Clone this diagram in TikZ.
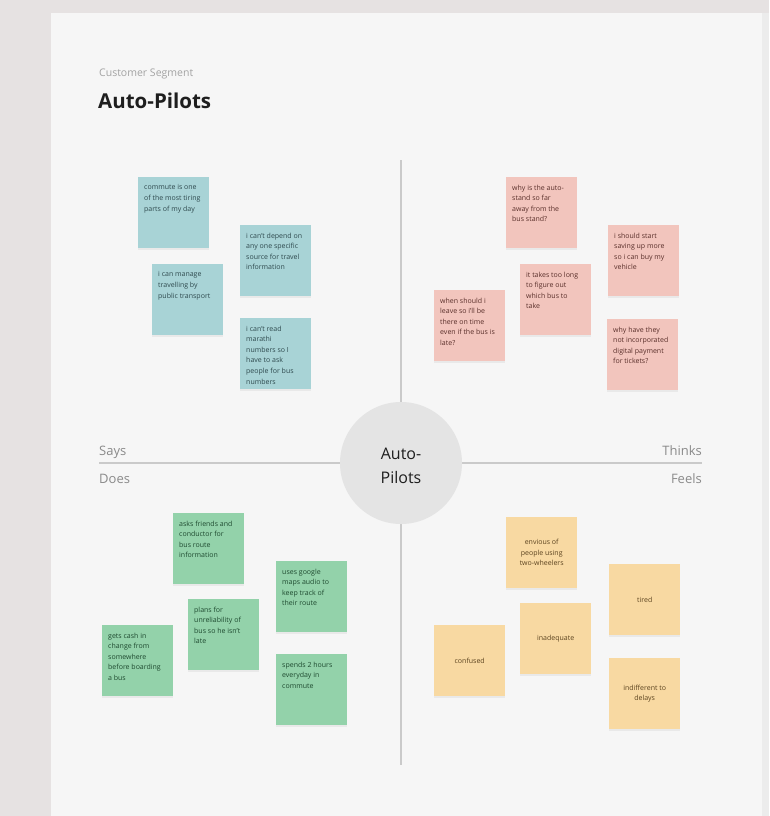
\documentclass[tikz,border=0pt]{standalone}
\usepackage{fontspec}
\setmainfont{Open Sans}
\usetikzlibrary{shadows}

\definecolor{outerbg}{HTML}{E6E2E2}
\definecolor{panelbg}{HTML}{F6F6F6}
\definecolor{panelshade}{HTML}{ECECEC}
\definecolor{axisline}{HTML}{CACACA}
\definecolor{hubfill}{HTML}{E4E4E4}
\definecolor{quadlabel}{HTML}{8A8A8A}
\definecolor{segmentgray}{HTML}{A3A3A3}
\definecolor{titleink}{HTML}{1E1E1E}
\definecolor{bluenote}{HTML}{A8D3D6}
\definecolor{blueink}{HTML}{2F4A4E}
\definecolor{pinknote}{HTML}{F2C5BD}
\definecolor{pinkink}{HTML}{5A302B}
\definecolor{greennote}{HTML}{93D2AA}
\definecolor{greenink}{HTML}{1F4A30}
\definecolor{yellownote}{HTML}{F8D9A2}
\definecolor{yellowink}{HTML}{5C4420}

\tikzset{
  note/.style={draw=none, anchor=north west, minimum width=71pt, minimum height=71pt,
    inner sep=0pt, drop shadow={opacity=0.10, shadow xshift=0pt, shadow yshift=-1.5pt}},
  notetext/.style={anchor=north west, inner sep=0pt, align=left,
    font={\fontsize{7}{10.6}\selectfont}},
  centertext/.style={inner sep=0pt, align=center, font={\fontsize{7}{10.6}\selectfont}},
  quadrant/.style={inner sep=0pt, text=quadlabel, font={\fontsize{13}{15}\selectfont}},
  axis/.style={draw=axisline, line width=1.2pt},
}

% sticky note with text in the upper left corner
\newcommand\topnote[5]{%
  \node[note, fill=#4note] (#1) at (#2,#3) {};
  \node[notetext, text=#4ink] (#1t) at ([shift={(6pt,-7.5pt)}]#1.north west) {#5};}
% sticky note with centred text
\newcommand\midnote[5]{%
  \node[note, fill=#4note] (#1) at (#2,#3) {};
  \node[centertext, text=#4ink] (#1t) at (#1.center) {#5};}

\begin{document}
\begin{tikzpicture}[x=1pt, y=-1pt]
  % backdrop and board
  \fill[outerbg] (0,0) rectangle (769,816);
  \useasboundingbox (0,0) rectangle (769,816);
  \fill[panelshade] (758,13) rectangle (769,816);
  \fill[panelbg] (51,13) rectangle (762,816);

  % heading
  \node[anchor=base west, inner sep=0pt, text=segmentgray,
        font={\fontsize{10.5}{12}\selectfont}] (segment) at (99,77) {Customer Segment};
  \node[anchor=base west, inner sep=0pt, text=titleink,
        font={\fontsize{20.5}{24}\selectfont\bfseries}] (title) at (98,108) {Auto-Pilots};

  % axes
  \coordinate (vtop) at (401,160);
  \coordinate (vbot) at (401,765);
  \coordinate (hleft) at (99,463);
  \coordinate (hright) at (702,463);
  \draw[axis] (vtop) -- (vbot);
  \draw[axis] (hleft) -- (hright);

  % hub
  \node[circle, fill=hubfill, minimum size=122pt, inner sep=0pt] (hub) at (401,463) {};
  \node[align=center, inner sep=0pt, text=titleink,
        font={\fontsize{16}{24}\selectfont}] (hubtext) at (401,466) {Auto-\\Pilots};

  % quadrant names
  \node[quadrant, anchor=base west] (says) at (99,455) {Says};
  \node[quadrant, anchor=base west] (does) at (99,483) {Does};
  \node[quadrant, anchor=base east] (thinks) at (702,455) {Thinks};
  \node[quadrant, anchor=base east] (feels) at (702,483) {Feels};

  % says
  \topnote{b1}{138}{177}{blue}{commute is one\\of the most tiring\\parts of my day}
  \topnote{b2}{240}{225}{blue}{i can't depend on\\any one specific\\source for travel\\information}
  \topnote{b3}{152}{264}{blue}{i can manage\\travelling by\\public transport}
  \topnote{b4}{240}{318}{blue}{i can't read\\marathi\\numbers so I\\have to ask\\people for bus\\numbers}

  % thinks
  \topnote{p1}{506}{177}{pink}{why is the auto-\\stand so far\\away from the\\bus stand?}
  \topnote{p2}{608}{225}{pink}{i should start\\saving up more\\so i can buy my\\vehicle}
  \topnote{p3}{520}{264}{pink}{it takes too long\\to figure out\\which bus to\\take}
  \topnote{p4}{434}{290}{pink}{when should i\\leave so i'll be\\there on time\\even if the bus is\\late?}
  \topnote{p5}{607}{319}{pink}{why have they\\not incorporated\\digital payment\\for tickets?}

  % does
  \topnote{g1}{173}{513}{green}{asks friends and\\conductor for\\bus route\\information}
  \topnote{g2}{276}{561}{green}{uses google\\maps audio to\\keep track of\\their route}
  \topnote{g3}{188}{599}{green}{plans for\\unreliability of\\bus so he isn't\\late}
  \topnote{g4}{102}{625}{green}{gets cash in\\change from\\somewhere\\before boarding\\a bus}
  \topnote{g5}{276}{654}{green}{spends 2 hours\\everyday in\\commute}

  % feels
  \midnote{y1}{506}{517}{yellow}{envious of\\people using\\two-wheelers}
  \midnote{y2}{609}{564}{yellow}{tired}
  \midnote{y3}{520}{603}{yellow}{inadequate}
  \midnote{y4}{434}{625}{yellow}{confused}
  \midnote{y5}{609}{658}{yellow}{indifferent to\\delays}
\end{tikzpicture}
\end{document}
